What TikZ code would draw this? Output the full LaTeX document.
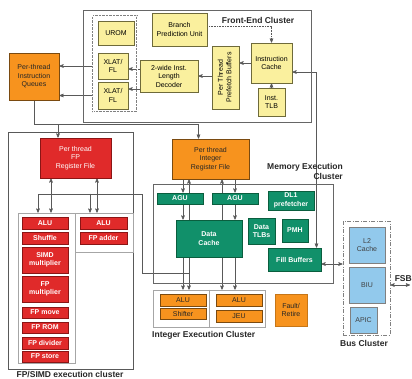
\documentclass[tikz,border=0pt]{standalone}
\usepackage{fontspec}
\setmainfont{Liberation Sans}
\usetikzlibrary{arrows, calc, backgrounds}

\definecolor{feyellow}{HTML}{FAF09E}
\definecolor{feline}{HTML}{6E6A3A}
\definecolor{orfill}{HTML}{F7931E}
\definecolor{orline}{HTML}{7A4A10}
\definecolor{redfill}{HTML}{E02A2A}
\definecolor{redline}{HTML}{8B1515}
\definecolor{grfill}{HTML}{11906A}
\definecolor{grline}{HTML}{0A5E3E}
\definecolor{bufill}{HTML}{92C9EC}

\begin{document}
\begin{tikzpicture}[x=1pt, y=-1pt, >=stealth', font=\fontsize{7}{8.5}\selectfont]
    \tikzstyle{unit}=[rectangle, draw, line width=0.8pt, inner sep=0pt, align=center]
    \tikzstyle{fe}=[unit, draw=feline, fill=feyellow, text=black]
    \tikzstyle{intu}=[unit, draw=orline, fill=orfill, text=black!85]
    \tikzstyle{fpu}=[unit, draw=redline, fill=redfill, text=white, font=\fontsize{7}{8.5}\selectfont\bfseries]
    \tikzstyle{mem}=[unit, draw=grline, fill=grfill, text=white, font=\fontsize{7}{8.5}\selectfont\bfseries]
    \tikzstyle{busu}=[unit, draw=gray, fill=bufill, text=black!75]
    \tikzstyle{cluster}=[rectangle, draw=gray!80!black, line width=0.9pt, inner sep=0pt]
    \tikzstyle{subcluster}=[rectangle, draw=gray!70, line width=0.6pt, inner sep=0pt]
    \tikzstyle{clustername}=[font=\fontsize{8.5}{9.5}\selectfont\bfseries, text=black!85, inner sep=0pt]
    \tikzstyle{wire}=[->, gray!70!black, line width=0.6pt]

    \useasboundingbox (0,0) rectangle (412,378);

    % front-end cluster
    \node[cluster, minimum width=228pt, minimum height=112pt] (fecl) at (197,66) {};
    \node[clustername] (fename) at (258,20) {Front-End Cluster};
    \node[rectangle, draw=gray, densely dotted, double, double distance=0.8pt, minimum width=44pt, minimum height=96pt] (xlatbox) at (115,64) {};
    \node[fe, minimum width=36pt, minimum height=24pt] (urom) at (116,33) {UROM};
    \node[fe, minimum width=30pt, minimum height=26pt] (xlat1) at (113,66) {XLAT/\\FL};
    \node[fe, minimum width=30pt, minimum height=27pt] (xlat2) at (113,95.5) {XLAT/\\FL};
    \node[fe, minimum width=55pt, minimum height=33pt] (bpu) at (179.5,29.5) {Branch\\Prediction Unit};
    \node[fe, minimum width=58pt, minimum height=32pt] (dec) at (169,76) {2-wide Inst.\\Length\\Decoder};
    \node[fe, minimum width=27pt, minimum height=63pt] (pfb) at (225.5,77.5) {\rotatebox{90}{\begin{tabular}{@{}c@{}}Per Thread\\Prefetch Buffers\end{tabular}}};
    \node[fe, minimum width=41pt, minimum height=40pt] (ic) at (271.5,63) {Instruction\\Cache};
    \node[fe, minimum width=27pt, minimum height=28pt] (tlb) at (271.5,102) {Inst.\\TLB};
    \node[intu, minimum width=50pt, minimum height=47pt] (queues) at (34,76.5) {Per-thread\\Instruction\\Queues};

    % register files
    \node[unit, draw=redline, fill=redfill, text=white, minimum width=71pt, minimum height=40pt] (fprf) at (75.5,158) {Per thread\\FP\\Register File};
    \node[intu, minimum width=77pt, minimum height=40pt] (intrf) at (210.5,159) {Per thread\\Integer\\Register File};

    % FP/SIMD cluster
    \node[cluster, draw=gray!70!black, line width=0.7pt, minimum width=125pt, minimum height=237pt] (fpcl) at (70.5,250.5) {};
    \node[subcluster, minimum width=57pt, minimum height=150pt] (fpleft) at (46.5,288) {};
    \node[subcluster, minimum width=58pt, minimum height=39pt] (fpright) at (104,232.5) {};
    \node[fpu, minimum width=46pt, minimum height=12pt] (fpalu) at (45,223) {ALU};
    \node[fpu, minimum width=46pt, minimum height=12pt] (shuffle) at (45,238) {Shuffle};
    \node[fpu, minimum width=46pt, minimum height=26pt] (simdmul) at (45,260) {SIMD\\multiplier};
    \node[fpu, minimum width=46pt, minimum height=26pt] (fpmul) at (45,289) {FP\\multiplier};
    \node[fpu, minimum width=46pt, minimum height=11pt] (fpmove) at (45,312.5) {FP move};
    \node[fpu, minimum width=46pt, minimum height=11pt] (fprom) at (45,327.5) {FP ROM};
    \node[fpu, minimum width=46pt, minimum height=12pt] (fpdiv) at (45,343) {FP divider};
    \node[fpu, minimum width=46pt, minimum height=11pt] (fpstore) at (45,356.5) {FP store};
    \node[fpu, minimum width=47pt, minimum height=12pt] (fpalub) at (103.5,223) {ALU};
    \node[fpu, minimum width=47pt, minimum height=12pt] (fpadd) at (103.5,238) {FP adder};
    \node[clustername] (fpname) at (70,374) {FP/SIMD execution cluster};

    % memory execution cluster
    \node[cluster, minimum width=180pt, minimum height=99pt] (memcl) at (243,233.5) {};
    \node[clustername, align=right, anchor=east] (memname) at (343,171.5) {Memory Execution\\Cluster};
    \node[mem, minimum width=46pt, minimum height=11pt] (agu1) at (180,198.5) {AGU};
    \node[mem, minimum width=46pt, minimum height=11pt] (agu2) at (235,198.5) {AGU};
    \node[mem, minimum width=66pt, minimum height=37pt] (dc) at (209,238.5) {Data\\Cache};
    \node[mem, minimum width=46pt, minimum height=19pt] (dl1) at (291,200.5) {DL1\\prefetcher};
    \node[mem, minimum width=27pt, minimum height=26pt] (dtlb) at (261.5,231) {Data\\TLBs};
    \node[mem, minimum width=26pt, minimum height=23pt] (pmh) at (295,230.5) {PMH};
    \node[mem, minimum width=53pt, minimum height=23pt] (fill) at (294.5,259.5) {Fill Buffers};

    % integer execution cluster
    \node[subcluster, minimum width=112pt, minimum height=37pt] (intcl) at (209,308.5) {};
    \draw[gray!70, line width=0.6pt] (intcl.north) -- (intcl.south);
    \node[intu, minimum width=46pt, minimum height=12pt] (intalu1) at (183,300) {ALU};
    \node[intu, minimum width=46pt, minimum height=11pt] (shifter) at (183,313.5) {Shifter};
    \node[intu, minimum width=46pt, minimum height=12pt] (intalu2) at (239,300) {ALU};
    \node[intu, minimum width=46pt, minimum height=12pt] (jeu) at (239,316) {JEU};
    \node[intu, draw=orfill!80!black, minimum width=32pt, minimum height=32pt] (retire) at (291,310) {Fault/\\Retire};
    \node[clustername, anchor=west] (intname) at (152,335) {Integer Execution Cluster};

    % bus cluster
    \node[rectangle, draw=gray, line width=0.9pt, dash pattern=on 4pt off 1.5pt on 1pt off 1.5pt, minimum width=47pt, minimum height=114pt] (buscl) at (366.5,278) {};
    \node[busu, minimum width=36pt, minimum height=36pt] (l2) at (367,245) {L2\\Cache};
    \node[busu, minimum width=36pt, minimum height=36pt] (biu) at (367,285) {BIU};
    \node[busu, minimum width=27pt, minimum height=26pt] (apic) at (363.5,320) {APIC};
    \node[clustername] (busname) at (364,343) {Bus Cluster};
    \coordinate (fsb) at (410,285);
    \node[clustername, anchor=south east] (fsbname) at (412,282) {FSB};

    \begin{scope}[on background layer]
    % front-end paths
    \draw[wire] (xlatbox.west |- xlat1) -- (queues.east |- xlat1);
    \draw[wire] (xlatbox.west |- xlat2) -- (queues.east |- xlat2);
    \draw[wire] ([yshift=7pt]dec.west) -- ([yshift=7pt]dec.west -| xlat1.east);
    \draw[wire] ([yshift=-13pt]dec.west) -- ([yshift=-13pt]dec.west -| xlat2.east);
    \draw[wire] (pfb.west |- dec) -- (dec.east);
    \draw[wire] (ic.west) -- (ic.west -| pfb.east);
    \draw[wire] (tlb.north) -- (ic.south);
    \draw[wire, densely dotted] ([yshift=3pt]bpu.east) -| (ic.north);
    \draw[wire, <->] ([xshift=22pt]fill.north) |- ([yshift=-9pt]ic.east);

    % queues to register files
    \draw[wire] (queues.south) |- ($(intrf.north)+(-12,-14)$) -- ([xshift=-12pt]intrf.north);
    \draw[wire] ($(fprf.north)+(-17.5,-13)$) -- ([xshift=-17.5pt]fprf.north);

    % FP paths
    \draw[wire, <->] ([xshift=-24.5pt]fprf.south) -- ([xshift=-24.5pt]fprf.south |- fpleft.north);
    \draw[wire, <->] ([xshift=21.5pt]fprf.south) -- ([xshift=21.5pt]fprf.south |- fpright.north);
    \draw[wire] ($(intrf.south)+(-21.5,94)$) -| ($(fprf.south)+(66.5,16)$) -| ([xshift=-8.5pt]fpleft.north);
    \draw[wire] ($(fpright.north)+(-14,-19)$) -- ([xshift=-14pt]fpright.north);

    % integer and memory paths
    \draw[wire] ([xshift=-27.5pt]intrf.south) -- ([xshift=-27.5pt]intrf.south |- agu1.north);
    \draw[wire] ([xshift=24.5pt]intrf.south) -- ([xshift=24.5pt]intrf.south |- agu2.north);
    \draw[wire] ([xshift=3pt]agu1.south) -- ([xshift=3pt]agu1.south |- dc.north);
    \draw[wire] (agu2.south) -- (agu2.south |- dc.north);
    \draw[wire] ([xshift=-26pt]dc.south) -- ([xshift=-26pt]dc.south |- intcl.north);
    \draw[wire] ([xshift=26pt]dc.south) -- ([xshift=26pt]dc.south |- intcl.north);
    \draw[wire, <->] ([xshift=-21.5pt]intrf.south) -- ([xshift=-21.5pt]intrf.south |- intcl.north);
    \draw[wire, <->] ([xshift=11.5pt]intrf.south) -- ([xshift=11.5pt]intrf.south |- intcl.north);

    % bus paths
    \draw[wire, <->] ([yshift=-4.5pt]fill.east) -- ([yshift=-4.5pt]fill.east -| buscl.west);
    \draw[wire, <->] (buscl.east |- biu) -- (fsb);
    \end{scope}
\end{tikzpicture}
\end{document}
